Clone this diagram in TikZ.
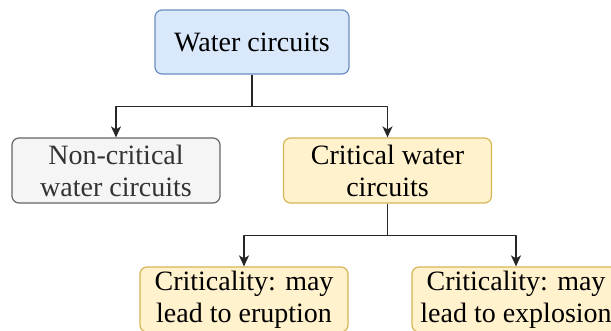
\documentclass[tikz,border=0pt]{standalone}
\usepackage{fontspec}
\setmainfont{Liberation Serif}
\usetikzlibrary{arrows.meta}
\definecolor{bluefill}{HTML}{DAE8FC}
\definecolor{blueline}{HTML}{6C8EBF}
\definecolor{grayfill}{HTML}{F5F5F5}
\definecolor{grayline}{HTML}{666666}
\definecolor{yellowfill}{HTML}{FFF2CC}
\definecolor{yellowline}{HTML}{D6B656}
\tikzset{
  box/.style={draw, rounded corners=7pt, line width=1.2pt, align=center, inner sep=0pt,
    minimum width=208pt, minimum height=65pt, font=\fontsize{28}{32}\selectfont},
  bluebox/.style={box, fill=bluefill, draw=blueline, minimum width=194pt, minimum height=64pt},
  graybox/.style={box, fill=grayfill, draw=grayline, text=black!80},
  yellowbox/.style={box, fill=yellowfill, draw=yellowline},
  link/.style={->, line width=1.5pt, draw=black!85}
}
\begin{document}
\begin{tikzpicture}[x=1pt, y=-1pt, >={Stealth[length=11pt,width=10pt,inset=3pt]}, line join=round]
  \useasboundingbox (0,0) rectangle (611,330);
  \node[bluebox] (water) at (252,42) {Water circuits};
  \node[graybox] (noncrit) at (116,170.5) {Non-critical\\water circuits};
  \node[yellowbox] (crit) at (387.5,170.5) {Critical water\\circuits};
  \node[yellowbox] (erupt) at (244,299.5) {Criticality: may\\lead to eruption};
  \node[yellowbox] (explode) at (516,299.5) {Criticality: may\\lead to explosion};
  \draw[link] (water.south) -- ++(0,32) -| (noncrit.north);
  \draw[link] (water.south) -- ++(0,32) -| (crit.north);
  \draw[link] (crit.south) -- ++(0,32) -| (erupt.north);
  \draw[link] (crit.south) -- ++(0,32) -| (explode.north);
\end{tikzpicture}
\end{document}
